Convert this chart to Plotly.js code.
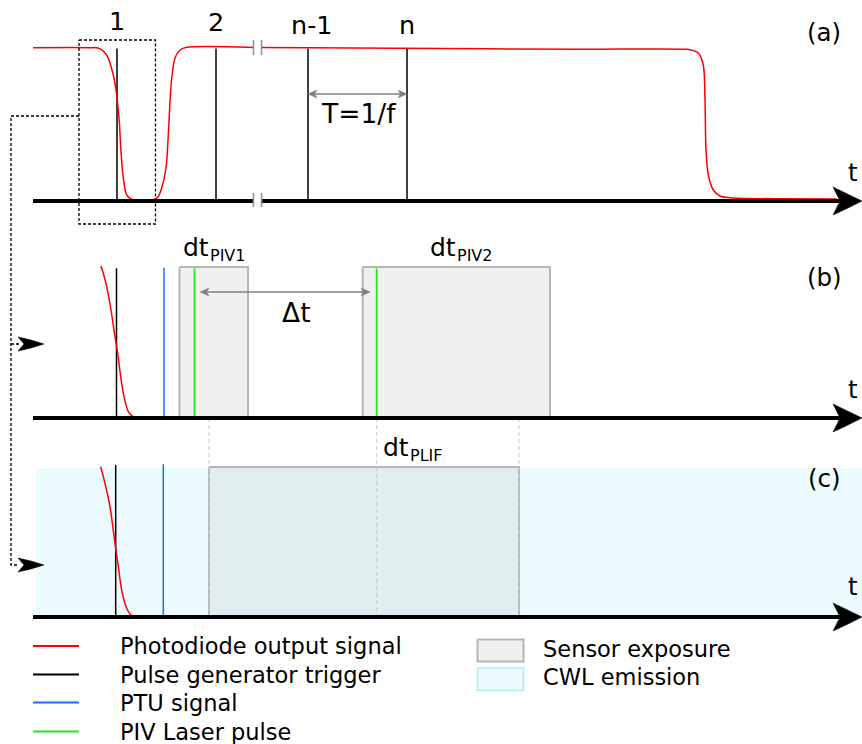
<!DOCTYPE html>
<html>
<head>
<meta charset="utf-8">
<script src="https://cdn.plot.ly/plotly-3.0.1.min.js"></script>
<style>html,body{margin:0;padding:0;background:#fff;}#chart{width:862px;height:744px;}</style>
</head>
<body>
<div id="chart"></div>
<script>
// ---------- data (in drawing units) ----------
const panelBaseY = [201, 418, 617];           // time axes of panels (a), (b), (c)
const panelLabels = ['(a)', '(b)', '(c)'];
const triggerTimesA = [117, 216, 308, 407];    // pulse generator triggers in (a)
const triggerLabelsA = ['1', '2', 'n-1', 'n'];
const triggerTimeBC = [116.5, 115.7];          // trigger in (b), (c)
const ptuTimes = [164, 163.3];                 // PTU signal in (b), (c)
const pivLaserTimes = [194.5, 376.7];          // PIV laser pulses in (b)
const exposureStart = [179.5, 362.7];          // dt_PIV1, dt_PIV2
const exposureEnd = [248, 550];
const exposureSubs = ['PIV1', 'PIV2'];
const plifStart = 209, plifEnd = 519;          // dt_PLIF
const cwlStart = 36, cwlEnd = 862;             // CWL emission window
const signalHigh = [47.7, 267, 467];           // top of signal region per panel

// photodiode output signal, panel (a) (two parts around the axis break)
const photoA1_x = [33, 90, 98, 106.7, 113.3, 116.7, 119.3, 121, 123.3, 126.7, 131.7, 155, 158, 161.7, 166, 168.3, 170, 171.7, 175, 180, 186.7, 254];
const photoA1_y = [47.7, 47.7, 48, 55, 75, 95, 121.7, 151.7, 178, 195, 199.3, 199.3, 197, 188, 168, 135, 101.7, 78, 58, 50, 47.3, 47.5];
const photoA2_x = [261, 400, 580, 686.7, 693, 698.3, 703.3, 705, 706, 708.3, 713.3, 720, 730, 836.7];
const photoA2_y = [47.6, 48.3, 49.3, 49.3, 50.5, 53, 65, 100, 150, 175, 190, 196, 197.7, 199];
// photodiode falling edge in (b) and (c)
const photoB_x = [101, 103.3, 106.7, 111, 115, 117.7, 120.7, 124, 128.3, 133.3, 143.3];
const photoB_y = [266, 273.3, 286.7, 310, 336.7, 353, 376.7, 396.7, 411.7, 416.7, 417.3];
const photoC_x = [100.7, 105, 110, 115, 118.3, 121.7, 126.7, 131.7, 138];
const photoC_y = [466.7, 483.3, 506.7, 543.3, 566.7, 590, 608.3, 615.5, 616];

const legendLineNames = ['Photodiode output signal', 'Pulse generator trigger', 'PTU signal', 'PIV Laser pulse'];
const legendLineColors = ['#ff0000', '#000000', '#1a6ef5', '#22e622'];
const legendBoxNames = ['Sensor exposure', 'CWL emission'];

// ---------- styles ----------
const RED = '#ff0000', BLACK = '#000000', BLUE = '#1a6ef5', GREEN = '#22e622', GRAY = '#808080';
const EXP_FILL = '#f0f0f0', EXP_LINE = '#b6b6b6';
const CWL_FILL = '#ebfbfe', CWL_LINE = '#a6eef6';
const PLIF_FILL = '#e0eeef';
const FONT = 'DejaVu Sans, Liberation Sans, sans-serif';

const traces = [];
function line(xs, ys, color, width, dash, shape) {
  traces.push({type: 'scatter', mode: 'lines', x: xs, y: ys, hoverinfo: 'skip', showlegend: false,
    line: {color: color, width: width, dash: dash || 'solid', shape: shape || 'linear', smoothing: 0.8}});
}
function poly(xs, ys, fill, lineColor, width) {
  traces.push({type: 'scatter', mode: 'lines', x: xs, y: ys, fill: 'toself', fillcolor: fill, hoverinfo: 'skip', showlegend: false,
    line: {color: lineColor || fill, width: width || 0}});
}
function rect(x0, x1, y0, y1, fill, lineColor, width) {
  poly([x0, x1, x1, x0, x0], [y0, y0, y1, y1, y0], fill, lineColor, width);
}
// thin gray double arrow (measurement arrow)
function arrow2(x0, x1, y) {
  line([x0 + 3, x1 - 3], [y, y], GRAY, 1.5);
  poly([x0, x0 + 9, x0 + 6.5, x0 + 9, x0], [y, y - 4, y, y + 4, y], GRAY, GRAY, 0.5);
  poly([x1, x1 - 9, x1 - 6.5, x1 - 9, x1], [y, y - 4, y, y + 4, y], GRAY, GRAY, 0.5);
}

// CWL emission background (c)
rect(cwlStart, cwlEnd, signalHigh[2] + 0.7, panelBaseY[2] - 1, CWL_FILL, CWL_FILL, 0);
// PLIF exposure (c)
rect(plifStart, plifEnd, signalHigh[2], panelBaseY[2] - 1, PLIF_FILL, EXP_LINE, 2);
// dashed guide lines from (b) to (c)
[plifStart, pivLaserTimes[1], plifEnd].forEach(function (x) {
  line([x, x], [panelBaseY[1], panelBaseY[2]], '#c8c8c8', 1, '4px,3px');
});
// PIV exposures (b)
for (let i = 0; i < exposureStart.length; i++) {
  rect(exposureStart[i], exposureEnd[i], signalHigh[1], panelBaseY[1] - 1, EXP_FILL, EXP_LINE, 2);
}

// panel (a) triggers
triggerTimesA.forEach(function (x) { line([x, x], [48.5, panelBaseY[0]], BLACK, 1.5); });
// panel (b),(c) triggers / PTU / PIV
line([triggerTimeBC[0], triggerTimeBC[0]], [268.3, panelBaseY[1]], BLACK, 1.5);
line([triggerTimeBC[1], triggerTimeBC[1]], [465, panelBaseY[2]], BLACK, 1.5);
line([ptuTimes[0], ptuTimes[0]], [267.7, panelBaseY[1]], BLUE, 1.5);
line([ptuTimes[1], ptuTimes[1]], [464.3, panelBaseY[2]], BLUE, 1.5);
pivLaserTimes.forEach(function (x) { line([x, x], [268.5, panelBaseY[1]], GREEN, 1.8); });

// photodiode curves
line(photoA1_x, photoA1_y, RED, 1.5, 'solid', 'spline');
line(photoA2_x, photoA2_y, RED, 1.5, 'solid', 'spline');
line(photoB_x, photoB_y, RED, 1.5, 'solid', 'spline');
line(photoC_x, photoC_y, RED, 1.5, 'solid', 'spline');

// measurement arrows
arrow2(triggerTimesA[2], triggerTimesA[3], 94);
arrow2(pivLaserTimes[0] + 5.5, pivLaserTimes[1] - 6.5, 292);

// time axes
line([33, 254], [panelBaseY[0], panelBaseY[0]], BLACK, 4);
line([261, 845], [panelBaseY[0], panelBaseY[0]], BLACK, 4);
line([33, 845], [panelBaseY[1], panelBaseY[1]], BLACK, 4);
line([33, 845], [panelBaseY[2], panelBaseY[2]], BLACK, 4);
// axis break marks in (a)
[253.5, 261.5].forEach(function (x) {
  line([x, x], [40, 55], '#909090', 1.5);
  line([x, x], [193, 207], '#909090', 1.5);
});
// big arrow heads
panelBaseY.forEach(function (y) {
  poly([862, 846, 833, 840, 833, 846, 862], [y, y - 8, y - 14, y, y + 14, y + 8, y], BLACK, BLACK, 0.5);
});

// dotted zoom box and connector
line([79, 155.5, 155.5, 79, 79], [40, 40, 224, 224, 40], BLACK, 1.3, '3px,2px');
line([79, 11, 11, 19], [116, 116, 565, 565], BLACK, 1.3, '3px,2px');
line([11, 19], [344, 344], BLACK, 1.3, '3px,2px');
[344, 565].forEach(function (y) {
  poly([44, 31, 18, 24, 18, 31, 44], [y, y - 4, y - 7, y, y + 7, y + 4, y], BLACK, BLACK, 0.5);
});

// legend samples
const legendRowY = [646, 674.5, 702.5, 731.5];
for (let i = 0; i < legendLineNames.length; i++) {
  line([33, 79], [legendRowY[i], legendRowY[i]], legendLineColors[i], 2);
}
rect(477.5, 523.5, 639.5, 661.5, EXP_FILL, EXP_LINE, 2);
rect(477.5, 523.5, 668, 690.5, CWL_FILL, CWL_LINE, 1.5);

// ---------- text ----------
const ann = [];
function txt(x, y, t, size, xanchor) {
  ann.push({x: x, y: y, xref: 'x', yref: 'y', text: t, showarrow: false, xanchor: xanchor || 'center', yanchor: 'middle',
    borderpad: 0, borderwidth: 0,
    font: {family: FONT, size: size, color: '#000'}});
}
// "dt" with a separately sized subscript
function dtLabel(xSplit, y, sub) {
  txt(xSplit, y, 'dt', 25, 'right');
  txt(xSplit + 0.8, y + 8, sub, 16, 'left');
}
const labelY = [21, 22, 24.5, 24.5];
triggerLabelsA.forEach(function (t, i) { txt(triggerTimesA[i] + (t === 'n-1' ? 4 : 0), labelY[i], t, 25.5); });
txt(358, 113, 'T=1/f', 26.5);
txt(296, 312, 'Δt', 26.5);
dtLabel(208.7, 247.5, exposureSubs[0]);
dtLabel(456, 247.5, exposureSubs[1]);
dtLabel(409, 447.5, 'PLIF');
const panelLabelY = [32, 277, 478];
panelLabels.forEach(function (t, i) { txt(824, panelLabelY[i], t, 24.5); });
[172, 389, 586].forEach(function (y) { txt(853, y, 't', 24.5); });
legendLineNames.forEach(function (t, i) { txt(120, legendRowY[i], t, 22.5, 'left'); });
txt(543, 649, legendBoxNames[0], 22.5, 'left');
txt(543, 677, legendBoxNames[1], 22.5, 'left');

const layout = {
  width: 862, height: 744,
  margin: {l: 0, r: 0, t: 0, b: 0, pad: 0},
  paper_bgcolor: '#ffffff', plot_bgcolor: '#ffffff',
  xaxis: {range: [0, 862], visible: false, fixedrange: true},
  yaxis: {range: [744, 0], visible: false, fixedrange: true},
  showlegend: false,
  annotations: ann,
  font: {family: FONT}
};
Plotly.newPlot('chart', traces, layout, {staticPlot: true, displayModeBar: false});
</script>
</body>
</html>
